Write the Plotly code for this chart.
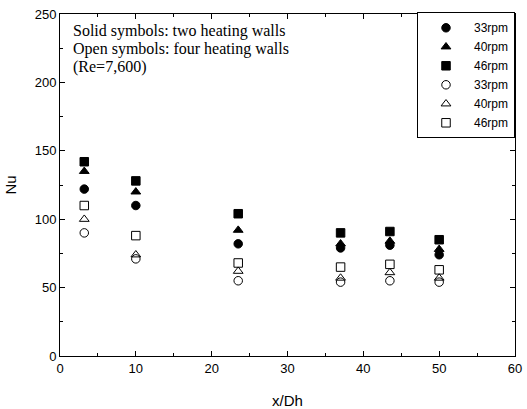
import plotly.graph_objects as go

x = [3.2, 10, 23.5, 37, 43.5, 50]
two_33 = [122, 110, 82, 79, 81, 74]
two_40 = [135, 120, 92, 82, 84, 78]
two_46 = [142, 128, 104, 90, 91, 85]
four_33 = [90, 71, 55, 54, 55, 54]
four_40 = [100, 74, 62, 57, 61, 57]
four_46 = [110, 88, 68, 65, 67, 63]

note_lines = ["Solid symbols: two heating walls",
              "Open symbols: four heating walls",
              "(Re=7,600)"]

series = [
    ("33rpm", two_33, "circle"),
    ("40rpm", two_40, "triangle-up"),
    ("46rpm", two_46, "square"),
    ("33rpm", four_33, "circle-open"),
    ("40rpm", four_40, "triangle-up-open"),
    ("46rpm", four_46, "square-open"),
]

fig = go.Figure()
for name, vals, sym in series:
    fig.add_trace(go.Scatter(
        x=x, y=vals, mode="markers", name=name,
        marker=dict(symbol=sym, size=8.5, color="black", line=dict(color="black", width=1)),
    ))

axis_common = dict(
    showgrid=False, zeroline=False, showline=True, linecolor="black", linewidth=1,
    mirror="ticks", ticks="inside", ticklen=5, tickcolor="black", automargin=False,
    tickfont=dict(family="Liberation Sans, Arial", size=13, color="black"),
)
fig.update_xaxes(range=[0, 60], dtick=10, minor=dict(dtick=5, ticks="inside", ticklen=3, tickcolor="black"),
                 title=dict(text="x/Dh", font=dict(family="Liberation Sans, Arial", size=15, color="black"), standoff=20),
                 **axis_common)
fig.update_yaxes(range=[0, 250], dtick=50, minor=dict(dtick=25, ticks="inside", ticklen=3, tickcolor="black"),
                 title=dict(text="Nu", font=dict(family="Liberation Sans, Arial", size=15, color="black"), standoff=14),
                 **axis_common)

for i, line in enumerate(note_lines):
    fig.add_annotation(
        x=0.024, y=0.950 - 0.0525 * i, xref="paper", yref="paper", xanchor="left", yanchor="middle",
        align="left", showarrow=False, text=line,
        font=dict(family="Liberation Serif, Times New Roman", size=16, color="black"),
    )

fig.update_layout(
    width=527, height=409,
    margin=dict(l=60, r=12, t=14, b=53),
    paper_bgcolor="white", plot_bgcolor="white",
    legend=dict(x=1, y=1.005, xanchor="right", yanchor="top",
                bordercolor="black", borderwidth=1, bgcolor="white",
                font=dict(family="Liberation Sans, Arial", size=12, color="black"),
                tracegroupgap=0, itemwidth=46),
)

fig.write_html("out.html", config={"displayModeBar": False},
               post_script="document.body.style.margin='0';document.body.style.padding='0';")
